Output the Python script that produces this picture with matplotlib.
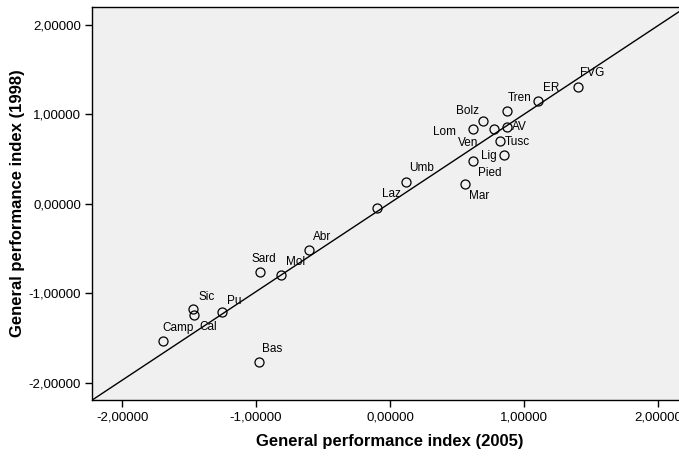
import matplotlib.pyplot as plt
from matplotlib.ticker import FuncFormatter

plt.rcParams['font.family'] = ['Liberation Sans', 'DejaVu Sans']

# Regions and performance index values (2005 on x, 1998 on y)
regions = ['FVG', 'ER', 'Tren', 'Bolz', 'Lom', 'Ven', 'AV', 'Tusc', 'Lig', 'Pied',
           'Mar', 'Umb', 'Laz', 'Abr', 'Mol', 'Sard', 'Sic', 'Cal', 'Pu', 'Camp', 'Bas']
gpi_2005 = [1.406, 1.103, 0.871, 0.692, 0.622, 0.777, 0.871, 0.821, 0.854, 0.617,
            0.560, 0.119, -0.095, -0.605, -0.814, -0.971, -1.473, -1.461, -1.257, -1.693, -0.978]
gpi_1998 = [1.311, 1.154, 1.039, 0.927, 0.834, 0.834, 0.864, 0.704, 0.544, 0.484,
            0.223, 0.249, -0.041, -0.514, -0.790, -0.763, -1.177, -1.237, -1.210, -1.531, -1.769]

# reference line
line_intercept = 0.011
line_slope = 0.99

# label offsets in pixels (dx, dy) from the marker
label_offsets = {
    'FVG': (2, 14), 'ER': (5, 13), 'Tren': (1, 13), 'Bolz': (-27, 10), 'Lom': (-40, -3),
    'Ven': (-36, -14), 'AV': (5, 0), 'Tusc': (5, -1), 'Lig': (-23, -1), 'Pied': (5, -12),
    'Mar': (4, -12), 'Umb': (3, 14), 'Laz': (5, 14), 'Abr': (4, 13), 'Mol': (5, 13),
    'Sard': (-8, 13), 'Sic': (6, 12), 'Cal': (5, -12), 'Pu': (5, 11), 'Camp': (-1, 13),
    'Bas': (3, 13),
}

fig = plt.figure(figsize=(6.79, 4.57), dpi=100)
ax = fig.add_axes([92 / 679, 57 / 457, 596 / 679, 393 / 457])
ax.set_facecolor('#f0f0f0')

xmin, xmax = -2.225, 2.225
ymin, ymax = -2.19, 2.20
ax.set_xlim(xmin, xmax)
ax.set_ylim(ymin, ymax)

ax.plot([xmin, xmax], [line_intercept + line_slope * xmin, line_intercept + line_slope * xmax],
        color='black', linewidth=1.0)

ax.plot(gpi_2005, gpi_1998, 'o', markersize=6.5, markerfacecolor='none',
        markeredgecolor='black', markeredgewidth=0.9)

for name, x, y in zip(regions, gpi_2005, gpi_1998):
    dx, dy = label_offsets[name]
    ax.annotate(name, (x, y), xytext=(dx, dy), textcoords='offset pixels',
                ha='left', va='center', fontsize=8.5, color='black')

ticks = [-2, -1, 0, 1, 2]
fmt = FuncFormatter(lambda v, p: f'{v:.5f}'.replace('.', ','))
ax.set_xticks(ticks)
ax.set_yticks(ticks)
ax.xaxis.set_major_formatter(fmt)
ax.yaxis.set_major_formatter(fmt)
ax.tick_params(direction='out', length=5, width=1, labelsize=9.5, pad=3)

for s in ax.spines.values():
    s.set_linewidth(1.0)

ax.set_xlabel('General performance index (2005)', fontsize=12, fontweight='bold', labelpad=8)
ax.set_ylabel('General performance index (1998)', fontsize=12, fontweight='bold')
ax.yaxis.set_label_coords(-0.113, 0.5)

fig.savefig('out.png', dpi=100)
